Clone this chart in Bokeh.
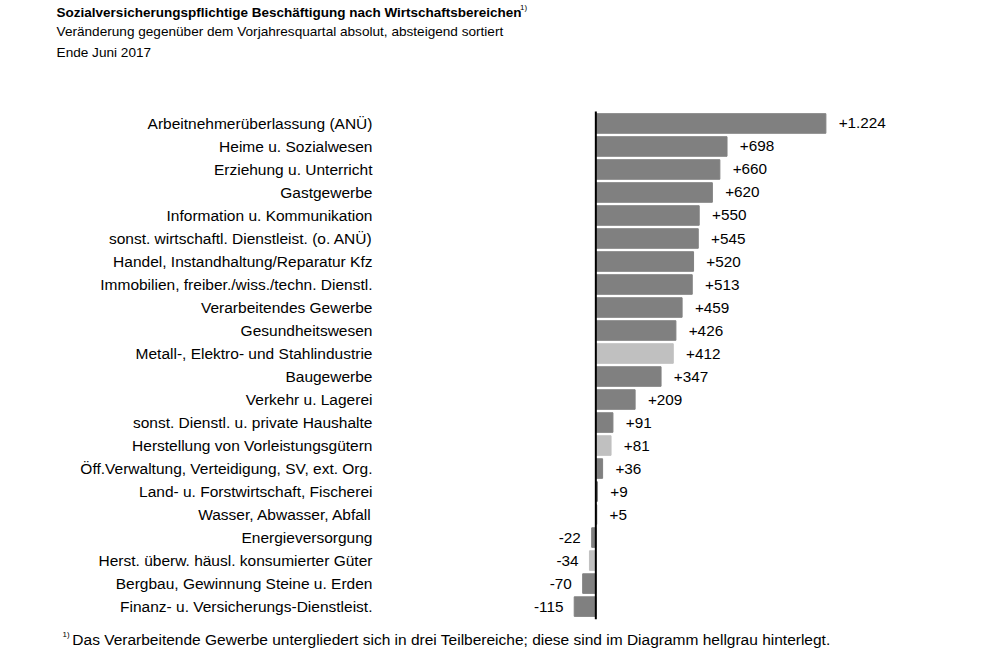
from bokeh.plotting import figure
from bokeh.models import ColumnDataSource, Range1d
from bokeh.core.properties import value
from bokeh.embed import file_html
from bokeh.resources import INLINE

categories = [
    "Arbeitnehmerüberlassung (ANÜ)",
    "Heime u. Sozialwesen",
    "Erziehung u. Unterricht",
    "Gastgewerbe",
    "Information u. Kommunikation",
    "sonst. wirtschaftl. Dienstleist. (o. ANÜ)",
    "Handel, Instandhaltung/Reparatur Kfz",
    "Immobilien, freiber./wiss./techn. Dienstl.",
    "Verarbeitendes Gewerbe",
    "Gesundheitswesen",
    "Metall-, Elektro- und Stahlindustrie",
    "Baugewerbe",
    "Verkehr u. Lagerei",
    "sonst. Dienstl. u. private Haushalte",
    "Herstellung von Vorleistungsgütern",
    "Öff.Verwaltung, Verteidigung, SV, ext. Org.",
    "Land- u. Forstwirtschaft, Fischerei",
    "Wasser, Abwasser, Abfall",
    "Energieversorgung",
    "Herst. überw. häusl. konsumierter Güter",
    "Bergbau, Gewinnung Steine u. Erden",
    "Finanz- u. Versicherungs-Dienstleist.",
]
values = [1224, 698, 660, 620, 550, 545, 520, 513, 459, 426, 412, 347, 209,
          91, 81, 36, 9, 5, -22, -34, -70, -115]
sub_sectors = [
    "Metall-, Elektro- und Stahlindustrie",
    "Herstellung von Vorleistungsgütern",
    "Herst. überw. häusl. konsumierter Güter",
]

title = "Sozialversicherungspflichtige Beschäftigung nach Wirtschaftsbereichen"
subtitle1 = "Veränderung gegenüber dem Vorjahresquartal absolut, absteigend sortiert"
subtitle2 = "Ende Juni 2017"
footnote = "Das Verarbeitende Gewerbe  untergliedert sich in drei  Teilbereiche; diese sind im Diagramm hellgrau hinterlegt."

DARK = "#808080"
LIGHT = "#c0c0c0"
FONT = value("Liberation Sans")

# layout: reference geometry (1001x667) mapped onto a 985x651 figure
REF_W, REF_H = 1001, 667
W, H = 985, 651
ZERO_PX = 605.0
PX_PER_UNIT = 0.191
ROW0_PX = 126.0
ROW_STEP = 23.57
S = W / REF_W


def dx(px):
    return (px - ZERO_PX) / PX_PER_UNIT


def dy(py):
    return (py - ROW0_PX) / ROW_STEP


def fs(px):
    return f"{px * S:.1f}px"


n = len(categories)
idx = list(range(n))


def fmt(v):
    s = f"{abs(v):,}".replace(",", ".")
    return ("+" if v > 0 else "-") + s


src = ColumnDataSource(dict(
    y=idx,
    v=values,
    cat=categories,
    color=[LIGHT if c in sub_sectors else DARK for c in categories],
))

p = figure(width=W, height=H, output_backend="svg", toolbar_location=None,
           x_range=Range1d(dx(0), dx(REF_W)),
           y_range=Range1d(dy(REF_H), dy(0)),
           x_axis_location=None, y_axis_location=None,
           min_border=0, outline_line_color=None)
p.grid.visible = False

p.hbar(y="y", left=0, right="v", height=0.85, color="color", source=src)

# axis line at zero
p.segment(x0=[0], x1=[0], y0=[-0.52], y1=[n - 0.45], line_color="black", line_width=2)

# category labels
p.text(x=dx(378), y="y", text="cat", source=src, text_align="right",
       text_baseline="middle", text_font=FONT, text_font_size=fs(15.8), text_color="black")

pos = ColumnDataSource(dict(
    y=[i for i, v in zip(idx, values) if v > 0],
    v=[v for v in values if v > 0],
    lab=[fmt(v) for v in values if v > 0]))
neg = ColumnDataSource(dict(
    y=[i for i, v in zip(idx, values) if v < 0],
    v=[v for v in values if v < 0],
    lab=[fmt(v) for v in values if v < 0]))

p.text(x="v", y="y", text="lab", source=pos, x_offset=13 * S, text_align="left",
       text_baseline="middle", text_font=FONT, text_font_size=fs(15.5), text_color="black")
p.text(x="v", y="y", text="lab", source=neg, x_offset=-11 * S, text_align="right",
       text_baseline="middle", text_font=FONT, text_font_size=fs(15.5), text_color="black")

# titles
p.text(x=[dx(57)], y=[dy(12)], text=[title], text_align="left", text_baseline="middle",
       text_font=FONT, text_font_size=fs(13.7), text_font_style="bold", text_color="black")
p.text(x=[dx(528)], y=[dy(7)], text=["1)"], text_align="left", text_baseline="middle",
       text_font=FONT, text_font_size=fs(8), text_color="black")
p.text(x=[dx(57)], y=[dy(32)], text=[subtitle1], text_align="left", text_baseline="middle",
       text_font=FONT, text_font_size=fs(13.8), text_color="black")
p.text(x=[dx(57)], y=[dy(53)], text=[subtitle2], text_align="left", text_baseline="middle",
       text_font=FONT, text_font_size=fs(13.8), text_color="black")
p.text(x=[dx(63)], y=[dy(650)], text=["1)"], text_align="left", text_baseline="middle",
       text_font=FONT, text_font_size=fs(8), text_color="black")
p.text(x=[dx(73)], y=[dy(655)], text=[footnote], text_align="left", text_baseline="middle",
       text_font=FONT, text_font_size=fs(15.8), text_color="black")

open("out.html", "w").write(file_html(p, INLINE))
